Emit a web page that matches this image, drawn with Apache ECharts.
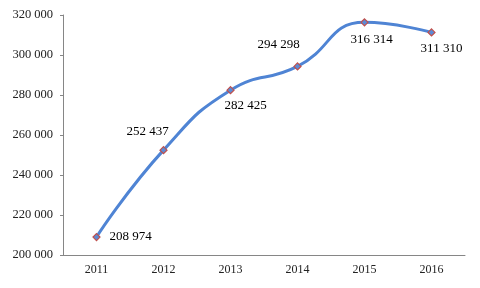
<!DOCTYPE html>
<html><head><meta charset="utf-8">
<script src="https://cdn.jsdelivr.net/npm/echarts@6/dist/echarts.min.js"></script>
<style>html,body{margin:0;padding:0;background:#fff}#c{width:480px;height:288px}</style>
</head><body><div id="c"></div>
<script>
var categories = ['2011', '2012', '2013', '2014', '2015', '2016'];
var values = [208974, 252437, 282425, 294298, 316314, 311310];
var yTicks = {min: 200000, max: 320000, interval: 20000};

var labelLayout = [
  {position: 'right', offset: [4, 0]},
  {position: 'top', offset: [-16, -3]},
  {position: 'bottom', offset: [15, 0]},
  {position: 'top', offset: [-19, -6]},
  {position: 'bottom', offset: [7, 2]},
  {position: 'bottom', offset: [10, 1]}
];
function fmt(v){ return String(v).replace(/\B(?=(\d{3})+(?!\d))/g, ' '); }
var chart = echarts.init(document.getElementById('c'));
chart.setOption({
  animation: false,
  grid: {left: 63, right: 15, top: 15, bottom: 33},
  xAxis: {
    type: 'category', data: categories, boundaryGap: true,
    axisLine: {lineStyle: {color: '#868686'}},
    axisTick: {length: 4, lineStyle: {color: '#868686'}},
    axisLabel: {color: '#222', fontFamily: 'Liberation Serif', fontSize: 12, margin: 9}
  },
  yAxis: {
    type: 'value', min: yTicks.min, max: yTicks.max, interval: yTicks.interval,
    axisLine: {show: true, lineStyle: {color: '#868686'}},
    axisTick: {show: true, length: 3, lineStyle: {color: '#868686'}},
    splitLine: {show: false},
    axisLabel: {color: '#222', fontFamily: 'Liberation Serif', fontSize: 12.5, margin: 10, formatter: fmt}
  },
  series: [{
    type: 'line', smooth: 0.5,
    data: values.map(function(v, i){
      return {value: v, label: {show: true, position: labelLayout[i].position, offset: labelLayout[i].offset}};
    }),
    lineStyle: {color: '#4f84d4', width: 3},
    symbol: 'diamond', symbolSize: 7,
    itemStyle: {color: '#5b8bd6', borderColor: '#c0504d', borderWidth: 1.2},
    label: {color: '#000', fontFamily: 'Liberation Serif', fontSize: 13, formatter: function(p){return fmt(p.value);}}
  }]
});
</script></body></html>
